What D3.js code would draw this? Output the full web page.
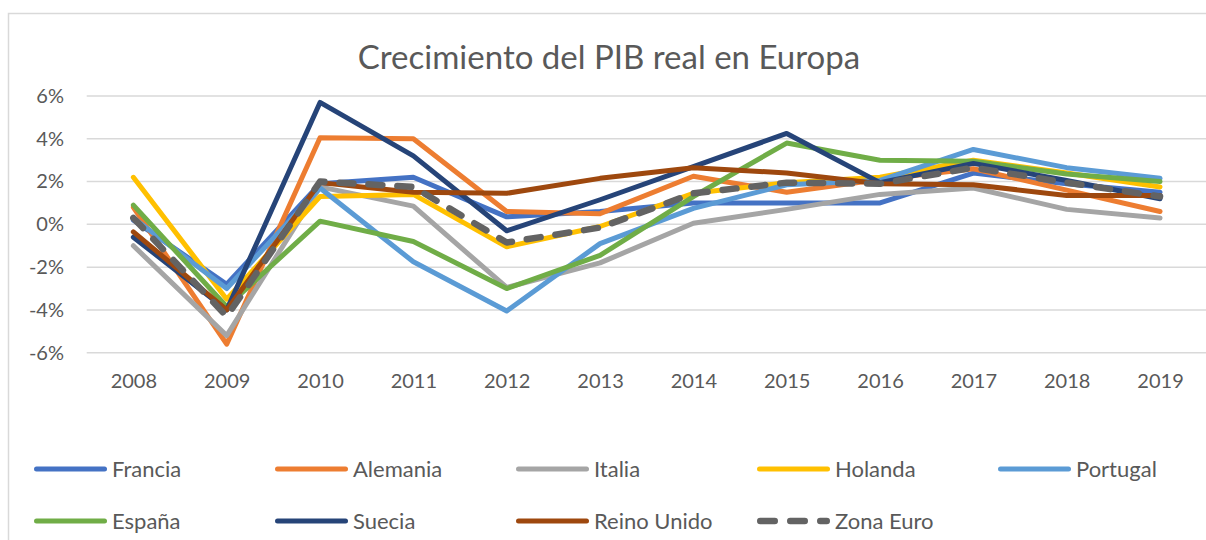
<!DOCTYPE html>
<meta charset="utf-8">
<html>
<head>
  <title>Crecimiento del PIB real en Europa</title>
  <script src="https://cdn.jsdelivr.net/npm/d3@7/dist/d3.min.js"></script>
  <style>
    body { margin: 0; background: #fff; }
    text { font-family: Lato, "Open Sans", sans-serif; fill: #595959; }
  </style>
</head>
<body>
  <svg id="svg" width="1206" height="540"></svg>
  <script>
    // data, growth in % per year
    var years = ["2008", "2009", "2010", "2011", "2012", "2013", "2014", "2015", "2016", "2017", "2018", "2019"];
    var yTicks = [-6, -4, -2, 0, 2, 4, 6];

    var francia    = [0.2, -2.8, 1.9, 2.2, 0.35, 0.6, 1.0, 1.0, 1.0, 2.4, 1.9, 1.5];
    var alemania   = [0.8, -5.6, 4.05, 4.0, 0.6, 0.5, 2.25, 1.5, 2.1, 2.6, 1.6, 0.6];
    var italia     = [-1.0, -5.2, 1.75, 0.85, -2.95, -1.8, 0.05, 0.7, 1.4, 1.7, 0.7, 0.3];
    var holanda    = [2.2, -3.5, 1.3, 1.4, -1.05, -0.1, 1.45, 1.95, 2.2, 3.0, 2.4, 1.75];
    var portugal   = [0.3, -3.0, 1.7, -1.75, -4.05, -0.9, 0.75, 1.85, 2.05, 3.5, 2.65, 2.15];
    var espana     = [0.9, -3.85, 0.15, -0.8, -3.0, -1.45, 1.3, 3.8, 3.0, 2.95, 2.35, 2.0];
    var suecia     = [-0.6, -4.0, 5.7, 3.2, -0.3, 1.15, 2.7, 4.25, 1.95, 2.85, 2.05, 1.2];
    var reinoUnido = [-0.35, -4.0, 1.95, 1.5, 1.45, 2.15, 2.65, 2.4, 1.9, 1.85, 1.35, 1.35];
    var zonaEuro   = [0.3, -4.3, 2.0, 1.75, -0.85, -0.15, 1.45, 1.95, 1.9, 2.65, 1.95, 1.3];

    var series = [
      { name: "Francia", values: francia, color: "#4472C4" },
      { name: "Alemania", values: alemania, color: "#ED7D31" },
      { name: "Italia", values: italia, color: "#A5A5A5" },
      { name: "Holanda", values: holanda, color: "#FFC000" },
      { name: "Portugal", values: portugal, color: "#5B9BD5" },
      { name: "España", values: espana, color: "#70AD47" },
      { name: "Suecia", values: suecia, color: "#264478" },
      { name: "Reino Unido", values: reinoUnido, color: "#9E480E" },
      { name: "Zona Euro", values: zonaEuro, color: "#636363", dashed: true }
    ];

    var svg = d3.select("#svg");

    // chart frame
    svg.append("rect")
      .attr("x", 8.5).attr("y", 13.5)
      .attr("width", 1240).attr("height", 560)
      .attr("fill", "none")
      .attr("stroke", "#d9d9d9")
      .attr("stroke-width", 1.5);

    var plotLeft = 86.7, plotRight = 1206.7;

    var x = d3.scalePoint()
      .domain(years)
      .range([plotLeft, plotRight])
      .padding(0.5);

    var y = d3.scaleLinear()
      .domain([-6, 6])
      .range([352.7, 96]);

    // title
    svg.append("text")
      .attr("x", 609)
      .attr("y", 69)
      .attr("text-anchor", "middle")
      .style("font-size", "33px")
      .text("Crecimiento del PIB real en Europa");

    // gridlines
    svg.append("g")
      .selectAll("line")
      .data(yTicks)
      .enter()
      .append("line")
      .attr("x1", plotLeft).attr("x2", plotRight)
      .attr("y1", function (d) { return y(d); })
      .attr("y2", function (d) { return y(d); })
      .attr("stroke", "#d9d9d9")
      .attr("stroke-width", 1.5);

    // y axis labels
    var yAxis = d3.axisLeft(y)
      .tickValues(yTicks)
      .tickSize(0)
      .tickPadding(0)
      .tickFormat(function (d) { return d + "%"; });
    svg.append("g")
      .attr("transform", "translate(64,0)")
      .call(yAxis)
      .call(function (g) { g.select(".domain").remove(); })
      .selectAll("text")
      .style("font-size", "20px")
      .attr("fill", "#595959");

    // x axis labels
    var xAxis = d3.axisBottom(x).tickSize(0).tickPadding(0);
    svg.append("g")
      .attr("transform", "translate(0,374)")
      .call(xAxis)
      .call(function (g) { g.select(".domain").remove(); })
      .selectAll("text")
      .style("font-size", "20px")
      .attr("fill", "#595959");

    var line = d3.line()
      .x(function (d, i) { return x(years[i]); })
      .y(function (d) { return y(d); });

    // series lines, Zona Euro last so it sits on top
    svg.append("g")
      .selectAll("path")
      .data(series)
      .enter()
      .append("path")
      .attr("d", function (d) { return line(d.values); })
      .attr("fill", "none")
      .attr("stroke", function (d) { return d.color; })
      .attr("stroke-width", function (d) { return d.dashed ? 6.5 : 5; })
      .attr("stroke-linejoin", "round")
      .attr("stroke-linecap", "round")
      .attr("stroke-dasharray", function (d) { return d.dashed ? "14 15" : null; });

    // legend: 5 columns, Zona Euro sits in column 4 of row 2
    var legend = svg.append("g")
      .selectAll("g")
      .data(series)
      .enter()
      .append("g")
      .attr("transform", function (d, i) {
        var col = i < 5 ? i : i - 5;
        var row = i < 5 ? 0 : 1;
        return "translate(" + (34 + col * 241) + "," + (469 + row * 52) + ")";
      });

    legend.append("line")
      .attr("x1", function (d) { return d.dashed ? 3.25 : 2.5; })
      .attr("x2", function (d) { return d.dashed ? 69.75 : 70.5; })
      .attr("y1", 0).attr("y2", 0)
      .attr("stroke", function (d) { return d.color; })
      .attr("stroke-width", function (d) { return d.dashed ? 6.5 : 5; })
      .attr("stroke-linecap", "round")
      .attr("stroke-dasharray", function (d) { return d.dashed ? "14.5 15.5" : null; });

    legend.append("text")
      .attr("x", 78)
      .attr("y", 7.5)
      .style("font-size", "22px")
      .text(function (d) { return d.name; });
  </script>
</body>
</html>
